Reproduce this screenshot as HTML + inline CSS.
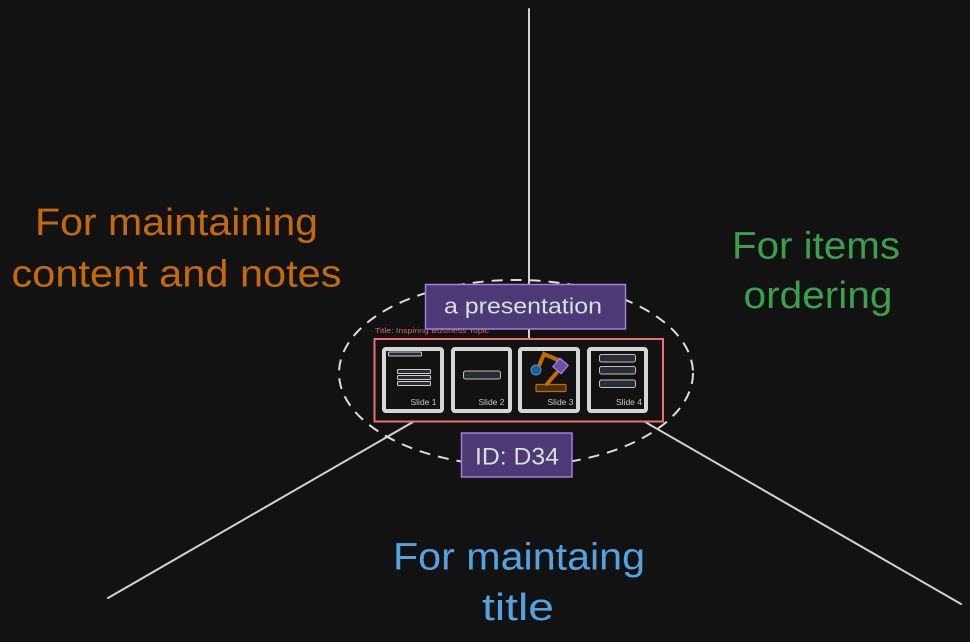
<!DOCTYPE html>
<html>
<head>
<meta charset="utf-8">
<style>
html,body{margin:0;padding:0;background:#121212;}
body{width:970px;height:642px;overflow:hidden;}
svg{display:block;}
text{font-family:"Liberation Sans",sans-serif;}
</style>
</head>
<body>
<svg width="970" height="642" viewBox="0 0 970 642" xmlns="http://www.w3.org/2000/svg">
  <rect x="0" y="0" width="970" height="642" fill="#121212"/>

  <!-- connector lines -->
  <g stroke="#d2d2d2" stroke-width="2" stroke-linecap="round" fill="none">
    <line x1="529" y1="9" x2="529" y2="355"/>
    <line x1="529" y1="355" x2="108" y2="598"/>
    <line x1="529" y1="355" x2="961" y2="604"/>
  </g>

  <!-- dashed ellipse -->
  <ellipse cx="516" cy="373" rx="177" ry="93" fill="none" stroke="#dddddd" stroke-width="2" stroke-dasharray="11 8"/>

  <!-- frame -->
  <rect x="374.5" y="339" width="288.5" height="82.5" fill="#121212" stroke="#ec6f6f" stroke-width="2"/>
  <text x="375" y="333" font-size="7.5" fill="#e06262" textLength="114" lengthAdjust="spacingAndGlyphs">Title: Inspiring Business Topic</text>

  <!-- slides -->
  <g fill="#121212" stroke="#d6d6d6" stroke-width="4">
    <rect x="384" y="349" width="58" height="62" rx="2"/>
    <rect x="453" y="349" width="57" height="62" rx="2"/>
    <rect x="520" y="349" width="58" height="62" rx="2"/>
    <rect x="589" y="349" width="57" height="62" rx="2"/>
  </g>

  <!-- slide 1 content -->
  <g fill="#2a2d31" stroke="#cfcfcf" stroke-width="1">
    <rect x="388.5" y="352" width="33" height="4" rx="1"/>
    <rect x="397.5" y="369.5" width="33" height="4" rx="1"/>
    <rect x="397.5" y="375.5" width="33" height="4" rx="1"/>
    <rect x="397.5" y="381.5" width="33" height="4" rx="1"/>
  </g>
  <!-- slide 2 content -->
  <rect x="463.5" y="371" width="37" height="8" rx="2" fill="#2a2d31" stroke="#bfbfbf" stroke-width="1"/>
  <!-- slide 4 content -->
  <g fill="#2a2d31" stroke="#bfbfbf" stroke-width="1">
    <rect x="599.5" y="354.5" width="36" height="7.5" rx="2"/>
    <rect x="599.5" y="366.5" width="36" height="7.5" rx="2"/>
    <rect x="599.5" y="380" width="36" height="7.5" rx="2"/>
  </g>

  <!-- slide 3 robot arm -->
  <rect x="536" y="384.5" width="30" height="7" rx="1" fill="#4a2f00" stroke="#c86a00" stroke-width="1.2"/>
  <g stroke="#c46b00" stroke-width="4" stroke-linecap="round" fill="none">
    <polyline points="539,366 544,354 558,360"/>
    <line x1="556.5" y1="373" x2="547" y2="384"/>
  </g>
  <rect x="555" y="360.5" width="11" height="11" transform="rotate(40 560.5 366)" fill="#6a4fa8" stroke="#b090f0" stroke-width="1"/>
  <circle cx="536" cy="370" r="5" fill="#1f5f99" stroke="#4a90c8" stroke-width="1"/>

  <!-- slide labels -->
  <g font-size="8" fill="#c8c8c8">
    <text x="410.5" y="405" textLength="26" lengthAdjust="spacingAndGlyphs">Slide 1</text>
    <text x="478.5" y="405" textLength="26" lengthAdjust="spacingAndGlyphs">Slide 2</text>
    <text x="547.5" y="405" textLength="26" lengthAdjust="spacingAndGlyphs">Slide 3</text>
    <text x="616" y="405" textLength="26" lengthAdjust="spacingAndGlyphs">Slide 4</text>
  </g>

  <!-- a presentation box -->
  <rect x="425.5" y="284.5" width="200" height="44.5" fill="#4b3a75" stroke="#a07fe0" stroke-width="1.5"/>
  <text x="523" y="313.5" font-size="22" fill="#dddddd" text-anchor="middle" textLength="158" lengthAdjust="spacingAndGlyphs">a presentation</text>

  <!-- ID box -->
  <rect x="461.5" y="433" width="110.5" height="44" fill="#4b3a75" stroke="#a07fe0" stroke-width="1.5"/>
  <text x="517" y="464.5" font-size="24" fill="#dddddd" text-anchor="middle" textLength="84" lengthAdjust="spacingAndGlyphs">ID: D34</text>

  <!-- big labels -->
  <g font-size="38">
    <text x="176.5" y="235" fill="#c46a0a" text-anchor="middle" textLength="283" lengthAdjust="spacingAndGlyphs">For maintaining</text>
    <text x="176.5" y="286.5" fill="#c46a0a" text-anchor="middle" textLength="330" lengthAdjust="spacingAndGlyphs">content and notes</text>

    <text x="816" y="258.5" fill="#3aa04c" text-anchor="middle" textLength="168" lengthAdjust="spacingAndGlyphs">For items</text>
    <text x="818" y="308" fill="#3aa04c" text-anchor="middle" textLength="149" lengthAdjust="spacingAndGlyphs">ordering</text>

    <text x="519" y="569.5" fill="#55a2e2" text-anchor="middle" textLength="252" lengthAdjust="spacingAndGlyphs">For maintaing</text>
    <text x="518" y="620" fill="#55a2e2" text-anchor="middle" textLength="72" lengthAdjust="spacingAndGlyphs">title</text>
  </g>
</svg>
</body>
</html>
